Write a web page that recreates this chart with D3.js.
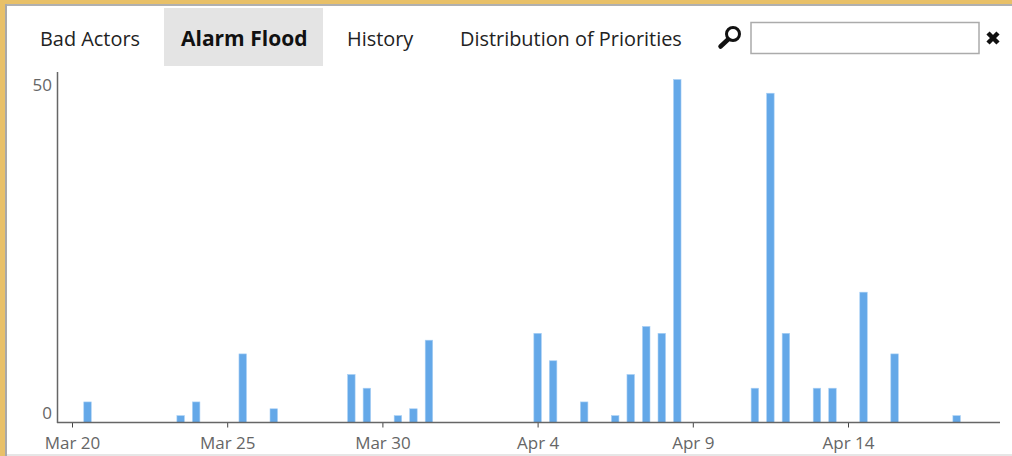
<!DOCTYPE html>
<html>
<head>
<meta charset="utf-8">
<script src="https://cdn.jsdelivr.net/npm/d3@7"></script>
<style>
  html, body { margin: 0; padding: 0; background: #fff; overflow: hidden; }
  text { font-family: "Open Sans", "Noto Sans", sans-serif; }
</style>
</head>
<body>
<div id="chart"></div>
<script>
// half-day bins, only the non-empty ones
const binTimes = [
  "2014-03-20T12", "2014-03-23T12", "2014-03-24T00", "2014-03-25T12", "2014-03-26T12",
  "2014-03-29T00", "2014-03-29T12", "2014-03-30T12", "2014-03-31T00", "2014-03-31T12",
  "2014-04-04T00", "2014-04-04T12", "2014-04-05T12", "2014-04-06T12", "2014-04-07T00",
  "2014-04-07T12", "2014-04-08T00", "2014-04-08T12", "2014-04-11T00", "2014-04-11T12",
  "2014-04-12T00", "2014-04-13T00", "2014-04-13T12", "2014-04-14T12", "2014-04-15T12",
  "2014-04-17T12"
];
const binCounts = [3, 1, 3, 10, 2, 7, 5, 1, 2, 12, 13, 9, 3, 1, 7, 14, 13, 50, 5, 48, 13, 5, 5, 19, 10, 1];

const tickDates = ["2014-03-20", "2014-03-25", "2014-03-30", "2014-04-04", "2014-04-09", "2014-04-14"];
const yTicks = [0, 50];
const tabs = ["Bad Actors", "Alarm Flood", "History", "Distribution of Priorities"];
const activeTab = "Alarm Flood";

const width = 1012;
const height = 456;
const parseBin = d3.utcParse("%Y-%m-%dT%H");
const parseDay = d3.utcParse("%Y-%m-%d");
const fmtDay = d3.utcFormat("%b %-d");

const svg = d3.select("#chart").append("svg")
  .attr("width", width)
  .attr("height", height)
  .style("display", "block");

// window frame
svg.append("rect").attr("width", width).attr("height", 4).attr("fill", "#e8c068");
svg.append("rect").attr("x", 5).attr("y", 4).attr("width", width).attr("height", 2).attr("fill", "#b0b0b0");
svg.append("rect").attr("width", 5).attr("height", height).attr("fill", "#e8c068");
svg.append("rect").attr("x", 5).attr("y", 4).attr("width", 2).attr("height", height).attr("fill", "#a8a8a8");
svg.append("rect").attr("y", 454).attr("x", 7).attr("width", width).attr("height", 2).attr("fill", "#e6e6e6");

// tab strip
const tabX = { "Bad Actors": 40, "Alarm Flood": 181, "History": 347, "Distribution of Priorities": 460 };
svg.append("rect")
  .attr("x", 164).attr("y", 8)
  .attr("width", 159).attr("height", 58)
  .attr("fill", "#e4e4e4");
svg.selectAll(".tab")
  .data(tabs)
  .join("text")
    .attr("class", "tab")
    .attr("x", d => tabX[d])
    .attr("y", 46)
    .attr("font-size", d => d === activeTab ? "21px" : "19.9px")
    .attr("font-weight", d => d === activeTab ? 700 : 400)
    .attr("fill", d => d === activeTab ? "#111" : "#222")
    .text(d => d);

// search box
svg.append("rect")
  .attr("x", 751).attr("y", 22.5)
  .attr("width", 228).attr("height", 31)
  .attr("fill", "#fff")
  .attr("stroke", "#ababab")
  .attr("stroke-width", 1.5);
const glass = svg.append("g");
glass.append("circle").attr("cx", 733).attr("cy", 34).attr("r", 6.5)
  .attr("fill", "none").attr("stroke", "#111").attr("stroke-width", 3);
glass.append("line").attr("x1", 728).attr("y1", 39.5).attr("x2", 720.5).attr("y2", 46.5)
  .attr("stroke", "#111").attr("stroke-width", 4.5).attr("stroke-linecap", "round");
svg.append("path")
  .attr("d", "M988,33L998,43M998,33L988,43")
  .attr("stroke", "#111").attr("stroke-width", 4.5);

// scales
const x = d3.scaleUtc()
  .domain([parseDay(tickDates[0]), parseDay(tickDates[5])])
  .range([72, 848]);
const y = d3.scaleLinear().domain([0, 50]).range([422.5, 79.5]);

// bars, with the soft lighter edge the reference has
svg.append("g").selectAll("rect")
  .data(binTimes.map((t, i) => ({ t: parseBin(t), v: binCounts[i] })))
  .join("rect")
    .attr("x", d => x(d.t) - 3.75)
    .attr("y", d => y(d.v))
    .attr("width", 7.5)
    .attr("height", d => y(0) - y(d.v))
    .attr("fill", "#64a8e8")
    .attr("stroke", "#a9d0f5")
    .attr("stroke-width", 0.6);

// axes
const xAxis = d3.axisBottom(x)
  .tickValues(tickDates.map(parseDay))
  .tickFormat(fmtDay)
  .tickSize(5)
  .tickPadding(9);
const gx = svg.append("g").attr("transform", "translate(0,422.5)").call(xAxis);
gx.select(".domain").remove();
gx.selectAll("line").attr("stroke", "#444");
gx.selectAll("text")
  .attr("fill", "#666")
  .attr("font-size", "17px")
  .style("font-family", '"Open Sans", "Noto Sans", sans-serif');

svg.append("line").attr("x1", 57).attr("x2", 1000).attr("y1", 422.5).attr("y2", 422.5)
  .attr("stroke", "#666").attr("stroke-width", 1.5);
svg.append("line").attr("x1", 57.5).attr("x2", 57.5).attr("y1", 72).attr("y2", 423)
  .attr("stroke", "#666").attr("stroke-width", 1.5);

svg.selectAll(".ylab")
  .data(yTicks)
  .join("text")
    .attr("class", "ylab")
    .attr("x", 52)
    .attr("y", d => y(d) - (d === 0 ? 3.5 : -11))
    .attr("text-anchor", "end")
    .attr("font-size", "17px")
    .attr("fill", "#666")
    .text(d => d);
</script>
</body>
</html>
